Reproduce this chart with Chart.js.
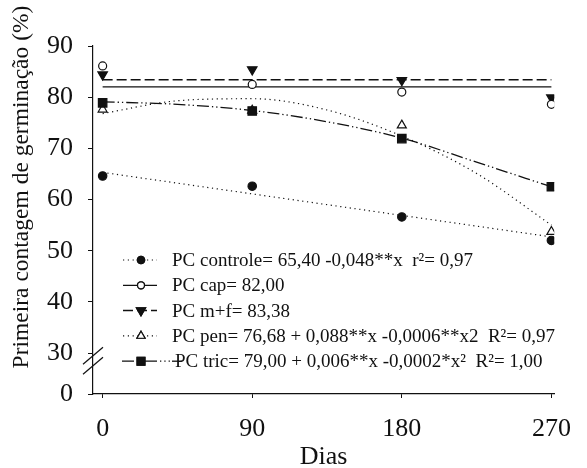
<!DOCTYPE html>
<html>
<head>
<meta charset="utf-8">
<script src="https://cdn.jsdelivr.net/npm/chart.js@4.4.0/dist/chart.umd.min.js"></script>
<style>
html,body{margin:0;padding:0;background:#fff;}
#wrap{width:587px;height:468px;position:relative;}
</style>
</head>
<body>
<div id="wrap"><canvas id="myChart"></canvas></div>
<script>
//dados
var dias=[0,90,180,270];
var controle=[64.6,62.6,56.6,52.0];
var cap=[86.1,82.5,81.0,78.6];
var mf=[84.4,85.4,83.3,79.9];
var pen=[77.6,77.4,74.5,53.7];
var tric=[78.9,77.3,71.9,62.5];
//curvas ajustadas
var retaX=[0,270];
var controleAjuste=[65.3,52.7];
var capAjuste=[82.0,82.0];
var mfAjuste=[83.4,83.4];
var curvaX=[0,45,90,135,180,225,270];
var penAjuste=[76.8,79.3,79.7,77.5,72.4,65.1,55.0];
var tricAjuste=[79.1,78.6,77.4,75.2,72.0,67.3,62.5];
//eixos
var xTicks=[0,90,180,270];
var yTicks=[30,40,50,60,70,80,90];
var yZeroPos=22;//posicao do 0 depois da quebra
var legendas=[
	'PC controle= 65,40 -0,048**x  r\u00b2= 0,97',
	'PC cap= 82,00',
	'PC m+f= 83,38',
	'PC pen= 76,68 + 0,088**x -0,0006**x2  R\u00b2= 0,97',
	'PC tric= 79,00 + 0,006**x -0,0002*x\u00b2  R\u00b2= 1,00'
];

var fonte='"Liberation Serif","Times New Roman",serif';
var cor='#111';

function pts(xs,ys){
	var r=[];
	for(var i=0;i<xs.length;i++){r.push({x:xs[i],y:ys[i]});}
	return r;
}

//estilos de cada serie
var estilos=[
	{dash:[1.2,3.6],width:1.2,point:'circle',rot:0,radius:4.2,fill:cor},
	{dash:[],width:1.3,point:'circle',rot:0,radius:4,fill:'#fff'},
	{dash:[10,4],width:1.5,point:'triangle',rot:180,radius:5.5,fill:cor},
	{dash:[1.2,3.6],width:1.2,point:'triangle',rot:0,radius:5.2,fill:'#fff'},
	{dash:[12,3,1.3,3,1.3,3],width:1.3,point:'rect',rot:0,radius:6,fill:cor}
];
var medias=[controle,cap,mf,pen,tric];
var ajustes=[pts(retaX,controleAjuste),pts(retaX,capAjuste),pts(retaX,mfAjuste),pts(curvaX,penAjuste),pts(curvaX,tricAjuste)];

var datasets=[];
for(var i=0;i<5;i++){
	var e=estilos[i];
	datasets.push({
		label:legendas[i],
		data:ajustes[i],
		showLine:true,
		borderColor:cor,
		borderWidth:e.width,
		borderDash:e.dash,
		pointRadius:0,
		cubicInterpolationMode:'monotone',
		fill:false,
		order:3
	});
}
for(var i=0;i<5;i++){
	var e=estilos[i];
	datasets.push({
		label:'_'+legendas[i],
		data:pts(dias,medias[i]),
		showLine:false,
		pointStyle:e.point,
		rotation:e.rot,
		pointRadius:e.radius,
		pointBackgroundColor:e.fill,
		pointBorderColor:cor,
		pointBorderWidth:1.2,
		order:i==4?0:1
	});
}

//legenda, titulo do eixo y e quebra do eixo
var extras={
	id:'extras',
	afterDraw:function(chart){
		var ctx=chart.ctx;
		var ys=chart.scales.y;
		var area=chart.chartArea;
		ctx.save();
		//quebra
		var cy=ys.getPixelForValue(28.5);
		var ax=area.left;
		ctx.strokeStyle=cor;
		ctx.lineWidth=1.2;
		ctx.setLineDash([]);
		[-5,5].forEach(function(o){
			ctx.beginPath();
			ctx.moveTo(ax-10,cy+o+8.5);
			ctx.lineTo(ax+10,cy+o-8.5);
			ctx.stroke();
		});
		//titulo y
		ctx.save();
		ctx.translate(22,187);
		ctx.rotate(-Math.PI/2);
		ctx.fillStyle=cor;
		ctx.font='23.5px '+fonte;
		ctx.textAlign='center';
		ctx.textBaseline='middle';
		ctx.fillText('Primeira contagem de germina\u00e7\u00e3o (%)',0,0);
		ctx.restore();
		//legenda
		var ly0=260,dy=25.3;
		for(var i=0;i<5;i++){
			var e=estilos[i];
			var ly=ly0+dy*i;
			ctx.strokeStyle=cor;
			ctx.lineWidth=e.width;
			ctx.setLineDash(e.dash);
			ctx.beginPath();
			if(i==4){
				ctx.moveTo(122,ly);ctx.lineTo(135,ly);
				ctx.moveTo(145,ly);ctx.lineTo(157,ly);
				ctx.stroke();
				ctx.setLineDash([1.3,3]);
				ctx.beginPath();
				ctx.moveTo(160,ly);ctx.lineTo(170,ly);
				ctx.stroke();
				ctx.setLineDash([]);
				ctx.beginPath();
				ctx.moveTo(172,ly);ctx.lineTo(182,ly);
			}else{
				ctx.moveTo(123,ly);ctx.lineTo(157,ly);
			}
			ctx.stroke();
			ctx.setLineDash([]);
			Chart.helpers.drawPoint(ctx,{pointStyle:e.point,rotation:e.rot,radius:e.radius-0.5,borderWidth:1.2},141,ly);
			ctx.fillStyle=e.fill;
			ctx.fill();
			ctx.stroke();
			ctx.fillStyle=cor;
			ctx.font='19px '+fonte;
			ctx.textAlign='left';
			ctx.textBaseline='middle';
			ctx.fillText(legendas[i],i==4?175:172,ly+1);
		}
		ctx.restore();
	}
};

var ctx1=document.getElementById('myChart');
var grafico=new Chart(ctx1,{
	type:'scatter',
	data:{datasets:datasets},
	plugins:[extras],
	options:{
		responsive:true,
		maintainAspectRatio:false,
		animation:false,
		layout:{padding:{top:46,right:17,left:0,bottom:0}},
		plugins:{legend:{display:false},tooltip:{enabled:false}},
		scales:{
			x:{
				type:'linear',
				min:-5.8,
				max:271.7,
				afterBuildTicks:function(s){s.ticks=xTicks.map(function(v){return {value:v};});},
				afterFit:function(s){s.height=74;},
				grid:{display:true,drawOnChartArea:false,color:cor,tickLength:4},
				border:{display:true,color:cor,width:1.2},
				ticks:{color:cor,font:{family:fonte,size:26},padding:16,maxRotation:0},
				title:{display:true,text:'Dias',color:cor,font:{family:fonte,size:26},padding:{top:-4,bottom:-5}}
			},
			y:{
				type:'linear',
				min:yZeroPos,
				max:90,
				afterBuildTicks:function(s){
					var t=[{value:yZeroPos}];
					yTicks.forEach(function(v){t.push({value:v});});
					s.ticks=t;
				},
				afterFit:function(s){s.width=93;},
				grid:{display:true,drawOnChartArea:false,color:cor,tickLength:5},
				border:{display:true,color:cor,width:1.2},
				ticks:{
					color:cor,
					font:{family:fonte,size:26},
					padding:15,
					callback:function(v){return v==yZeroPos?'0':v;}
				}
			}
		}
	}
});
</script>
</body>
</html>
